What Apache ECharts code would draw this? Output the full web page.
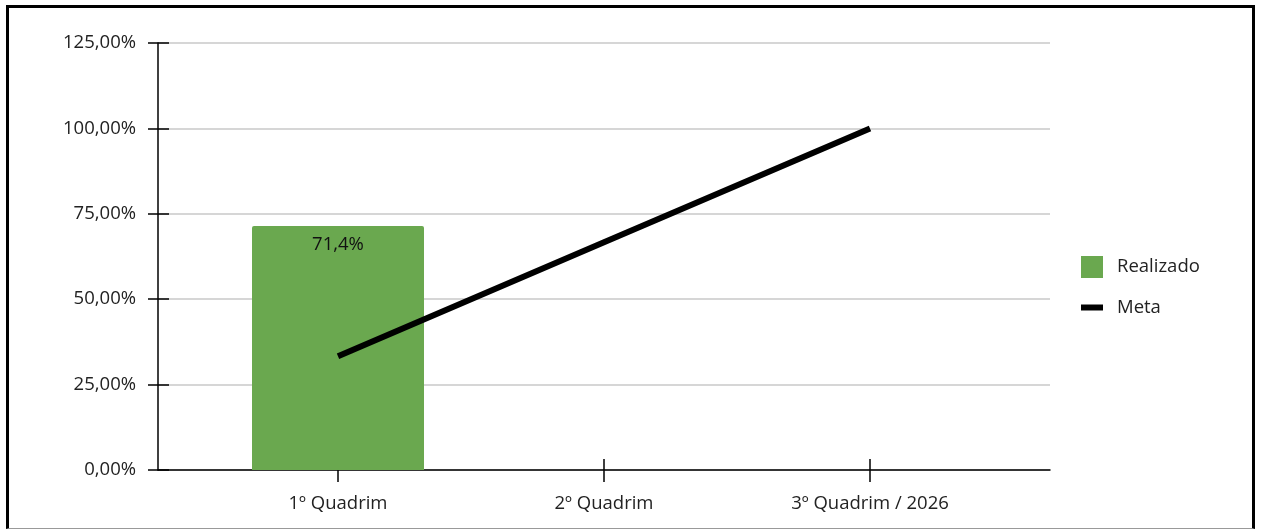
<!DOCTYPE html>
<html>
<head>
<meta charset="utf-8">
<script src="https://cdn.jsdelivr.net/npm/echarts@6/dist/echarts.min.js"></script>
<style>
  html, body { margin: 0; padding: 0; background: #fff; }
  #frame {
    position: absolute; left: 6px; top: 5px; width: 1249px; height: 524px;
    border-left: 3px solid #000; border-top: 3px solid #000; border-right: 3px solid #000;
    border-bottom: 1px solid #999; box-sizing: border-box;
  }
  #chart { position: absolute; left: 0; top: 0; width: 1265px; height: 531px; }
</style>
</head>
<body>
<div id="frame"></div>
<div id="chart"></div>
<script>
// dados
const categorias = ['1º Quadrim', '2º Quadrim', '3º Quadrim / 2026'];
const realizado = [71.4, null, null];
const meta = [33.33, 66.67, 100];
const yMin = 0, yMax = 125, yStep = 25;

const fonte = '"Open Sans", "Noto Sans", sans-serif';
const corTexto = '#222';
const tam = 18.5;

const chart = echarts.init(document.getElementById('chart'));

const fmtPct = v => v.toFixed(2).replace('.', ',') + '%';

chart.setOption({
  animation: false,
  textStyle: { fontFamily: fonte },
  grid: [
    { left: 158, right: 215, top: 43, bottom: 61 },   // eixos / linhas de grade
    { left: 205, right: 262, top: 43, bottom: 61 }    // dados
  ],
  legend: {
    orient: 'vertical',
    left: 1076, top: 251,
    itemGap: 20,
    itemWidth: 22, itemHeight: 22,
    textStyle: { fontSize: tam, color: corTexto, fontFamily: fonte, padding: [0, 0, 0, 9] },
    data: [
      { name: 'Realizado', icon: 'rect', itemStyle: { color: '#6aa84f' } },
      { name: 'Meta', icon: 'path://M0,8 L22,8 L22,14 L0,14 Z', itemStyle: { color: '#000' } }
    ]
  },
  xAxis: [
    {
      gridIndex: 0, type: 'category', data: [''], position: 'bottom',
      axisLine: { lineStyle: { color: '#000', width: 1.5 } },
      axisTick: { show: false }, axisLabel: { show: false }
    },
    {
      gridIndex: 1, type: 'category', data: categorias, position: 'bottom',
      axisLine: { show: false },
      axisTick: { show: true, alignWithLabel: true, length: 12, lineStyle: { color: '#000', width: 1.5 } },
      axisLabel: { fontSize: tam, color: corTexto, margin: 24, fontFamily: fonte }
    },
    {
      gridIndex: 1, type: 'category', data: categorias, position: 'bottom',
      axisLine: { show: false },
      axisTick: { show: true, inside: true, alignWithLabel: true, length: 11, lineStyle: { color: '#000', width: 1.5 } },
      axisLabel: { show: false }
    }
  ],
  yAxis: [
    {
      gridIndex: 0, type: 'value', min: yMin, max: yMax, interval: yStep, position: 'left',
      axisLine: { show: true, lineStyle: { color: '#000', width: 1.5 } },
      axisTick: { show: true, length: 10, lineStyle: { color: '#000', width: 1.5 } },
      axisLabel: { fontSize: tam, color: corTexto, margin: 22, formatter: fmtPct, fontFamily: fonte },
      splitLine: { show: true, lineStyle: { color: '#c8c8c8', width: 1.5 } }
    },
    {
      gridIndex: 0, type: 'value', min: yMin, max: yMax, interval: yStep, position: 'left',
      axisLine: { show: false },
      axisTick: { show: true, inside: true, length: 11, lineStyle: { color: '#000', width: 1.5 } },
      axisLabel: { show: false }, splitLine: { show: false }
    },
    {
      gridIndex: 1, type: 'value', min: yMin, max: yMax, interval: yStep,
      show: false
    }
  ],
  series: [
    {
      name: 'Realizado', type: 'bar', xAxisIndex: 1, yAxisIndex: 2,
      data: realizado, barWidth: 172,
      itemStyle: { color: '#6aa84f', borderRadius: [2, 2, 0, 0] },
      label: {
        show: true, position: 'insideTop', distance: 9,
        fontSize: tam, color: '#111', fontFamily: fonte,
        formatter: p => p.value.toFixed(1).replace('.', ',') + '%'
      },
      z: 2
    },
    {
      name: 'Meta', type: 'line', xAxisIndex: 1, yAxisIndex: 2,
      data: meta, showSymbol: false, symbol: 'none',
      lineStyle: { color: '#000', width: 6 },
      itemStyle: { color: '#000' },
      z: 3
    }
  ]
});
</script>
</body>
</html>
